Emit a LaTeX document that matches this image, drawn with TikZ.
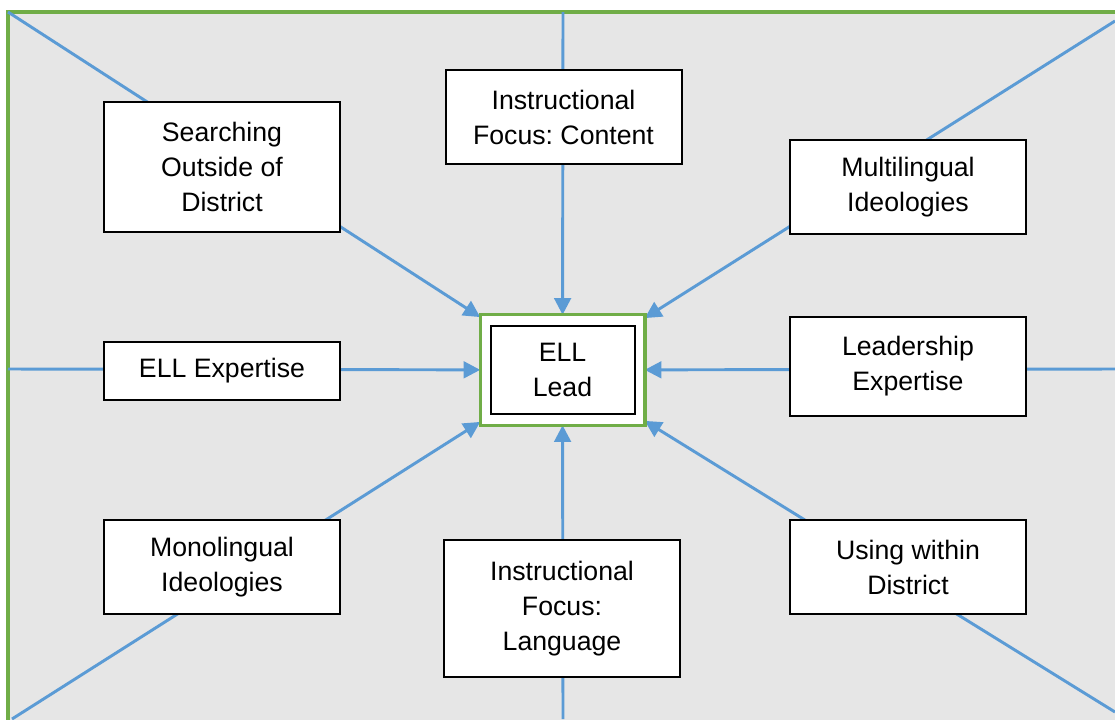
\documentclass[tikz,border=0pt]{standalone}
\usepackage{fontspec}
\setmainfont{Liberation Sans}
\usetikzlibrary{arrows.meta}
\frenchspacing

\definecolor{linkblue}{RGB}{91,155,213}
\definecolor{framegreen}{RGB}{112,173,71}
\definecolor{panelgray}{RGB}{230,230,230}

\tikzset{
  link/.style={linkblue,line width=2.2pt},
  tip/.style={-{Triangle[length=12.5pt,width=12.5pt]}},
  factor/.style={draw=black,line width=1.5pt,fill=white,align=center,
    minimum width=177pt,inner sep=0pt,font=\fontsize{20}{26.25}\selectfont},
}

\begin{document}
\begin{tikzpicture}[x=0.75pt,y=-0.75pt]
\useasboundingbox (0,0) rectangle (1115,719);
% grey panel, only top and left edges fall inside the page
\draw [framegreen,line width=2.6pt,fill=panelgray] (8,12) rectangle (1135,740);

% ends of the spokes on the panel edge
\coordinate (ctl) at (8,12);
\coordinate (ctop) at (563,12);
\coordinate (ctr) at (1115,21);
\coordinate (cright) at (1115,369);
\coordinate (cbr) at (1115,712);
\coordinate (cbot) at (563,719);
\coordinate (cbl) at (12,719);
\coordinate (cleft) at (8,369);

\node (lead) [minimum width=123pt,minimum height=82.5pt,inner sep=0pt] at (562.5,370) {};

\foreach \c in {ctl,ctop,ctr,cright,cbr,cbot,cbl,cleft}
  \draw [link,tip] (\c) -- (lead);

\node (search) [factor,minimum height=97.5pt] at (222,167) {Searching\\Outside of\\District};
\node (content) [factor,minimum height=70.5pt] at (563.5,117) {Instructional\\Focus: Content};
\node (multi) [factor,minimum height=70.5pt] at (908,187) {Multilingual\\Ideologies};
\node (expert) [factor,minimum height=43.5pt] at (222,371) {ELL Expertise};
\node (leader) [factor,minimum height=74pt] at (908,366.5) {Leadership\\Expertise};
\node (mono) [factor,minimum height=70.5pt] at (222,567) {Monolingual\\Ideologies};
\node (lang) [factor,minimum height=102.5pt] at (562,608.5) {Instructional\\Focus:\\Language};
\node (within) [factor,minimum height=70.5pt] at (908,567) {Using within\\District};

% centre: green outer box with the black one inside
\draw [framegreen,line width=2.6pt,fill=white] (lead.north west) rectangle (lead.south east);
\node (leadbox) [factor,minimum width=108pt,minimum height=66pt] at (lead) {ELL\\Lead};
\end{tikzpicture}
\end{document}
